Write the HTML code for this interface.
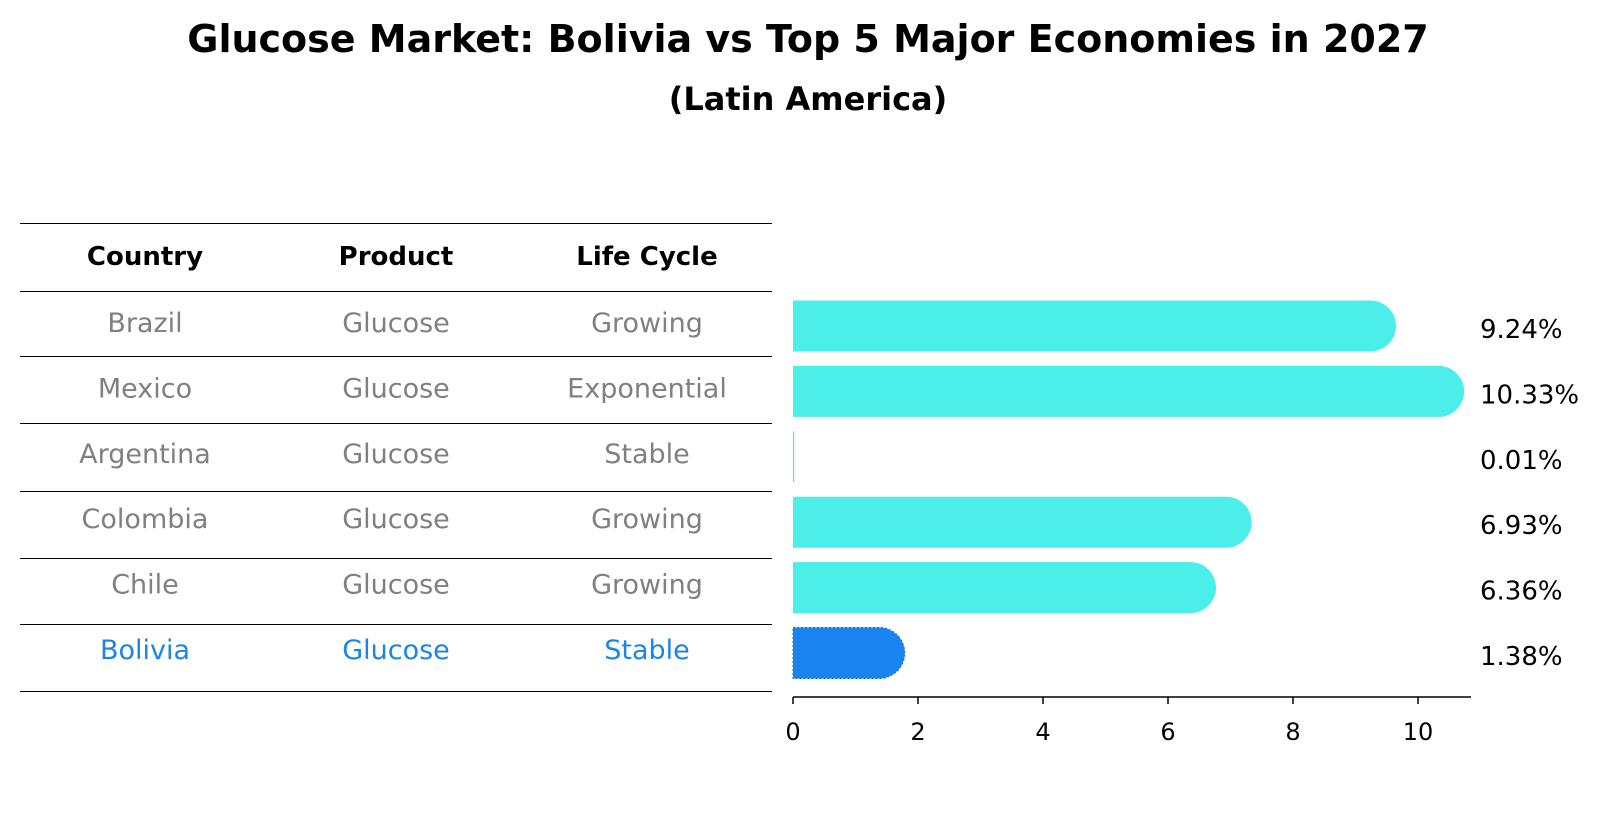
<!DOCTYPE html>
<html><head><meta charset="utf-8"><style>
body{margin:0;background:#fff;font-family:"DejaVu Sans","Liberation Sans",sans-serif}
svg text{font-family:"DejaVu Sans","Liberation Sans",sans-serif}
</style></head><body>
<svg id="c" width="1604" height="823" viewBox="0 0 1604 823" xmlns="http://www.w3.org/2000/svg">
<text x="808" y="52" text-anchor="middle" font-size="38" font-weight="bold">Glucose Market: Bolivia vs Top 5 Major Economies in 2027</text>
<text x="808" y="110" text-anchor="middle" font-size="32" font-weight="bold">(Latin America)</text>
<g id="tbl"></g>
<g id="bars"></g>
<g id="axis"></g>
</svg>
<script>
const countries=["Brazil","Mexico","Argentina","Colombia","Chile","Bolivia"];
const products=["Glucose","Glucose","Glucose","Glucose","Glucose","Glucose"];
const lifecycle=["Growing","Exponential","Stable","Growing","Growing","Stable"];
const values=[9.24,10.33,0.01,6.93,6.36,1.38];
const ticks=[0,2,4,6,8,10];
const NS="http://www.w3.org/2000/svg";
function mk(t,a,p){const e=document.createElementNS(NS,t);for(const k in a)e.setAttribute(k,a[k]);p.appendChild(e);return e;}
const x0=793,ppu=62.5;const xs=v=>x0+v*ppu;
const rowY=i=>326+i*65.4;
const tbl=document.getElementById('tbl'),bars=document.getElementById('bars'),axis=document.getElementById('axis');
const lines=[223,291,356,423,491,558,624,691];
lines.forEach(y=>{const l=mk('line',{x1:20,x2:772,y1:y+0.5,y2:y+0.5,stroke:'#000','stroke-width':1,'shape-rendering':'crispEdges'},tbl);

});
const cx=[145,396,647];
["Country","Product","Life Cycle"].forEach((h,j)=>{const t=mk('text',{x:cx[j],y:265,'text-anchor':'middle','font-size':26,'font-weight':'bold'},tbl);t.textContent=h;

});
countries.forEach((c,i)=>{const col=c==="Bolivia"?'#1a85e6':'#808080';
[c,products[i],lifecycle[i]].forEach((s,j)=>{const t=mk('text',{x:cx[j],y:rowY(i)+6,'text-anchor':'middle','font-size':27,fill:col},tbl);t.textContent=s;

});
const h=51,r=25.5,y=rowY(i)-h/2,xe=xs(values[i]);
const fill=c==="Bolivia"?'#1a85f0':'#4ceeea';
const w=xe-x0;
const p=w>r?`M${x0},${y}H${xe}A${r},${r} 0 0 1 ${xe},${y+h}H${x0}Z`:`M${x0},${y}H${x0+Math.max(w,1.2)}V${y+h}H${x0}Z`;
const b=mk('path',{d:p,fill:fill},bars);
if(c==="Bolivia"){b.setAttribute('stroke','#1670d0');b.setAttribute('stroke-dasharray','2 2');b.setAttribute('stroke-width','1');}


const t=mk('text',{x:1480,y:rowY(i)+12,'font-size':26},bars);t.textContent=values[i].toFixed(2)+'%';

});
const al=mk('line',{x1:x0,x2:1471,y1:697,y2:697,stroke:'#000','stroke-width':1.5},axis);


ticks.forEach(v=>{const tk=mk('line',{x1:xs(v),x2:xs(v),y1:697,y2:704,stroke:'#000','stroke-width':1.5},axis);


const t=mk('text',{x:xs(v),y:740,'text-anchor':'middle','font-size':24},axis);t.textContent=v;

});
</script>
</body></html>
